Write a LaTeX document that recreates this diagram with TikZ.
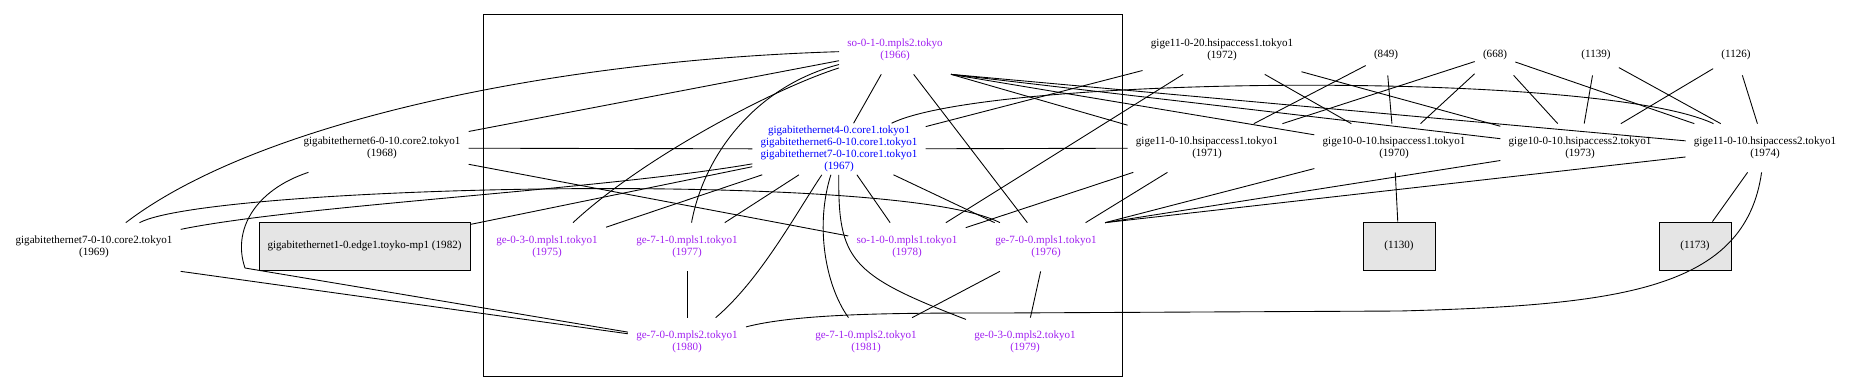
\documentclass[tikz,border=0pt]{standalone}
\usepackage{fontspec}
\setmainfont{Liberation Serif}
\definecolor{gvpurple}{RGB}{160,32,240}
\definecolor{gvblue}{RGB}{0,0,255}
\definecolor{gvgray}{RGB}{229,229,229}
\tikzset{
  host/.style={align=center, font=\fontsize{6.3}{6.8}\selectfont, inner xsep=0.16cm, inner ysep=0.05cm, minimum height=0.96cm},
  lone/.style={host, minimum height=0.8cm},
  mpls/.style={host, text=gvpurple},
  core/.style={host, text=gvblue},
  greybox/.style={host, draw, fill=gvgray, line width=0.5pt, minimum width=1.44cm},
  link/.style={line width=0.5pt}
}

\begin{document}
\begin{tikzpicture}[x=0.02cm, y=-0.02cm]
  \useasboundingbox (0,0) rectangle (1862,390);

  % Cluster
  \draw[line width=0.5pt] (483,14) rectangle (1122,376);

  % Nodes inside the cluster
  \node[mpls] (n1966) at (895,50) {so-0-1-0.mpls2.tokyo\\(1966)};
  \node[core] (n1967) at (839,149) {gigabitethernet4-0.core1.tokyo1\\gigabitethernet6-0-10.core1.tokyo1\\gigabitethernet7-0-10.core1.tokyo1\\(1967)};
  \node[mpls] (n1975) at (547,247) {ge-0-3-0.mpls1.tokyo1\\(1975)};
  \node[mpls] (n1977) at (687,247) {ge-7-1-0.mpls1.tokyo1\\(1977)};
  \node[mpls] (n1978) at (907,247) {so-1-0-0.mpls1.tokyo1\\(1978)};
  \node[mpls] (n1976) at (1046,247) {ge-7-0-0.mpls1.tokyo1\\(1976)};
  \node[mpls] (n1980) at (687,342) {ge-7-0-0.mpls2.tokyo1\\(1980)};
  \node[mpls] (n1981) at (866,342) {ge-7-1-0.mpls2.tokyo1\\(1981)};
  \node[mpls] (n1979) at (1025,342) {ge-0-3-0.mpls2.tokyo1\\(1979)};

  % Left side
  \node[host] (n1968) at (382,148) {gigabitethernet6-0-10.core2.tokyo1\\(1968)};
  \node[host] (n1969) at (94,247) {gigabitethernet7-0-10.core2.tokyo1\\(1969)};
  \node[greybox, inner xsep=0pt, minimum width=4.22cm] (n1982) at (364.5,246) {gigabitethernet1-0.edge1.toyko-mp1 (1982)};

  % Right side
  \node[host] (n1972) at (1222,50) {gige11-0-20.hsipaccess1.tokyo1\\(1972)};
  \node[lone] (n849) at (1386,55) {(849)};
  \node[lone] (n668) at (1495,55) {(668)};
  \node[lone] (n1139) at (1596,55) {(1139)};
  \node[lone] (n1126) at (1736,55) {(1126)};
  \node[host] (n1971) at (1207,148) {gige11-0-10.hsipaccess1.tokyo1\\(1971)};
  \node[host] (n1970) at (1394,148) {gige10-0-10.hsipaccess1.tokyo1\\(1970)};
  \node[host] (n1973) at (1580,148) {gige10-0-10.hsipaccess2.tokyo1\\(1973)};
  \node[host] (n1974) at (1765,148) {gige11-0-10.hsipaccess2.tokyo1\\(1974)};
  \node[greybox] (n1130) at (1399,246) {(1130)};
  \node[greybox] (n1173) at (1695,246) {(1173)};

  % Straight links
  \foreach \a/\b in {n1966/n1968, n1966/n1967, n1966/n1976, n1967/n1968, n1967/n1971,
                     n1967/n1982, n1967/n1975, n1967/n1977, n1967/n1978, n1967/n1976,
                     n1967/n1972, n1968/n1978, n1977/n1980, n1981/n1976, n1976/n1979,
                     n1971/n1978, n1971/n1976, n1970/n1130, n1974/n1173,
                     n1972/n1978, n1972/n1970, n1972/n1973, n849/n1971, n849/n1970,
                     n668/n1971, n668/n1970, n668/n1973, n668/n1974,
                     n1139/n1973, n1139/n1974, n1126/n1973, n1126/n1974}
    \draw[link] (\a) -- (\b);

  % Links bundled at the corner of 1966
  \foreach \b in {n1971, n1970, n1973, n1974}
    \draw[link] (n1966.south east) -- (\b);

  % Links bundled at the corner of 1976
  \draw[link] (n1970) -- (n1976.north east);
  \draw[link] (n1973) -- (n1976.north east);
  \draw[link] (n1974) -- (n1976.north east);

  % Curved links
  \draw[link] (n1966) .. controls (560,60) and (260,120) .. (n1969);
  \draw[link] (n1966) .. controls (770,90) and (640,160) .. (n1975);
  \draw[link] (n1966) .. controls (760,85) and (705,150) .. (n1977);
  \draw[link] (n1967) .. controls (600,190) and (300,205) .. (n1969);
  \draw[link] (n1967) .. controls (795,215) and (760,280) .. (n1980);
  \draw[link] (n1967) .. controls (815,225) and (825,285) .. (n1981);
  \draw[link] (n1967) .. controls (838,260) and (850,275) .. (n1979);
  \draw[link] (n1967) .. controls (990,75) and (1600,70) .. (n1974);
  \draw[link] (n1968) .. controls (255,190) and (232,230) .. (245,268) -- (n1980);
  \draw[link] (n1969.south east) -- (n1980);
  \draw[link] (n1969) .. controls (210,185) and (900,170) .. (n1976);
  \draw[link] (n1980) .. controls (800,313) and (900,313) .. (1000,313) -- (1400,311)
    .. controls (1620,305) and (1745,290) .. (n1974);
\end{tikzpicture}
\end{document}
